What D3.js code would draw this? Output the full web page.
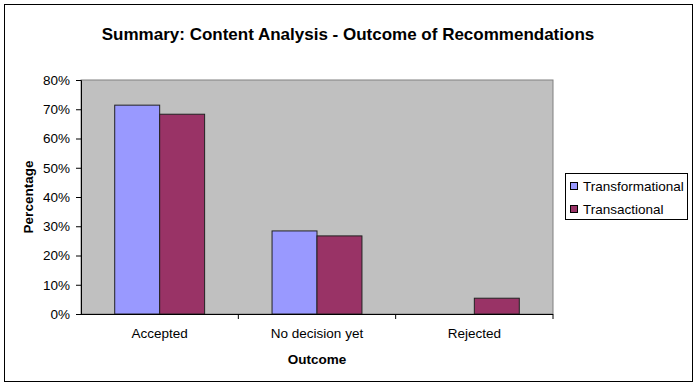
<!DOCTYPE html>
<html>
<head>
<meta charset="utf-8">
<script src="https://cdn.jsdelivr.net/npm/d3@7"></script>
<style>
  body { margin: 0; background: #fff; }
  text { font-family: "Liberation Sans", Arial, sans-serif; }
</style>
</head>
<body>
<svg id="chart" width="697" height="386"></svg>
<script>
var categories = ["Accepted", "No decision yet", "Rejected"];
var seriesNames = ["Transformational", "Transactional"];
var transformational = [71.4, 28.4, 0];
var transactional = [68.3, 26.7, 5.4];
var yTicks = [0, 10, 20, 30, 40, 50, 60, 70, 80];
var colors = ["#9999ff", "#993366"];

var svg = d3.select("#chart");

var plot = { left: 81, top: 80, right: 553, bottom: 314 };
var fontFam = "'Liberation Sans', Arial, sans-serif";

// outer frame
svg.append("rect")
  .attr("x", 4.5).attr("y", 4.5)
  .attr("width", 688).attr("height", 377)
  .attr("fill", "#fff").attr("stroke", "#000").attr("stroke-width", 1);

svg.append("text")
  .attr("x", 348).attr("y", 40)
  .attr("text-anchor", "middle")
  .style("font-size", "17px").style("font-weight", "bold")
  .text("Summary: Content Analysis - Outcome of Recommendations");

var x0 = d3.scaleBand().domain(categories).range([plot.left, plot.right]);
var x1 = d3.scaleBand().domain(seriesNames)
  .range([0, x0.bandwidth()]).paddingOuter(0.75).paddingInner(0);
var y = d3.scaleLinear().domain([0, 80]).range([plot.bottom, plot.top]);

svg.append("rect")
  .attr("x", plot.left).attr("y", plot.top)
  .attr("width", plot.right - plot.left).attr("height", plot.bottom - plot.top)
  .attr("fill", "#c0c0c0").attr("stroke", "#808080").attr("stroke-width", 1);

var rows = categories.map(function (c, i) {
  return [
    { cat: c, name: seriesNames[0], v: transformational[i] },
    { cat: c, name: seriesNames[1], v: transactional[i] }
  ];
});

svg.append("g").selectAll("g")
  .data(rows).enter().append("g")
  .attr("transform", function (d) { return "translate(" + x0(d[0].cat) + ",0)"; })
  .selectAll("rect")
  .data(function (d) { return d.filter(function (e) { return e.v > 0; }); })
  .enter().append("rect")
  .attr("x", function (d) { return x1(d.name); })
  .attr("y", function (d) { return y(d.v); })
  .attr("width", x1.bandwidth())
  .attr("height", function (d) { return plot.bottom - y(d.v); })
  .attr("fill", function (d) { return colors[seriesNames.indexOf(d.name)]; })
  .attr("stroke", "#222").attr("stroke-width", 1);

// y axis
var yAxis = d3.axisLeft(y).tickValues(yTicks)
  .tickFormat(function (d) { return d + "%"; })
  .tickSize(5).tickPadding(6);
var gy = svg.append("g").attr("transform", "translate(" + plot.left + ",0)").call(yAxis);
gy.select(".domain").attr("stroke", "#000");
gy.selectAll("line").attr("stroke", "#000");
gy.selectAll("text").style("font-size", "13.5px").attr("fill", "#000")
  .style("font-family", fontFam);

// x axis
var xAxis = d3.axisBottom(x0).tickSize(0).tickPadding(14);
var gx = svg.append("g").attr("transform", "translate(0," + plot.bottom + ")").call(xAxis);
gx.select(".domain").attr("stroke", "#000").attr("d", "M" + plot.left + ",0.5H" + plot.right);
gx.selectAll("text").style("font-size", "13.5px").attr("fill", "#000")
  .style("font-family", fontFam);
gx.selectAll(".sep")
  .data(categories.slice(1).concat([null])).enter().append("line")
  .attr("class", "sep")
  .attr("x1", function (d) { return d ? x0(d) : plot.right; })
  .attr("x2", function (d) { return d ? x0(d) : plot.right; })
  .attr("y1", 0).attr("y2", 5)
  .attr("stroke", "#000");

svg.append("text")
  .attr("x", (plot.left + plot.right) / 2).attr("y", 364)
  .attr("text-anchor", "middle")
  .style("font-size", "13.5px").style("font-weight", "bold")
  .text("Outcome");

svg.append("text")
  .attr("transform", "translate(33," + ((plot.top + plot.bottom) / 2) + ") rotate(-90)")
  .attr("text-anchor", "middle")
  .style("font-size", "13.5px").style("font-weight", "bold")
  .text("Percentage");

// legend
var lg = svg.append("g").attr("transform", "translate(565,173)");
lg.append("rect").attr("x", 0.5).attr("y", 0.5).attr("width", 122).attr("height", 46)
  .attr("fill", "#fff").attr("stroke", "#000");
seriesNames.forEach(function (n, i) {
  lg.append("rect").attr("x", 5.5).attr("y", 9.5 + i * 23).attr("width", 7).attr("height", 7)
    .attr("fill", colors[i]).attr("stroke", "#000");
  lg.append("text").attr("x", 18).attr("y", 18 + i * 23)
    .style("font-size", "13.5px").text(n);
});
</script>
</body>
</html>
